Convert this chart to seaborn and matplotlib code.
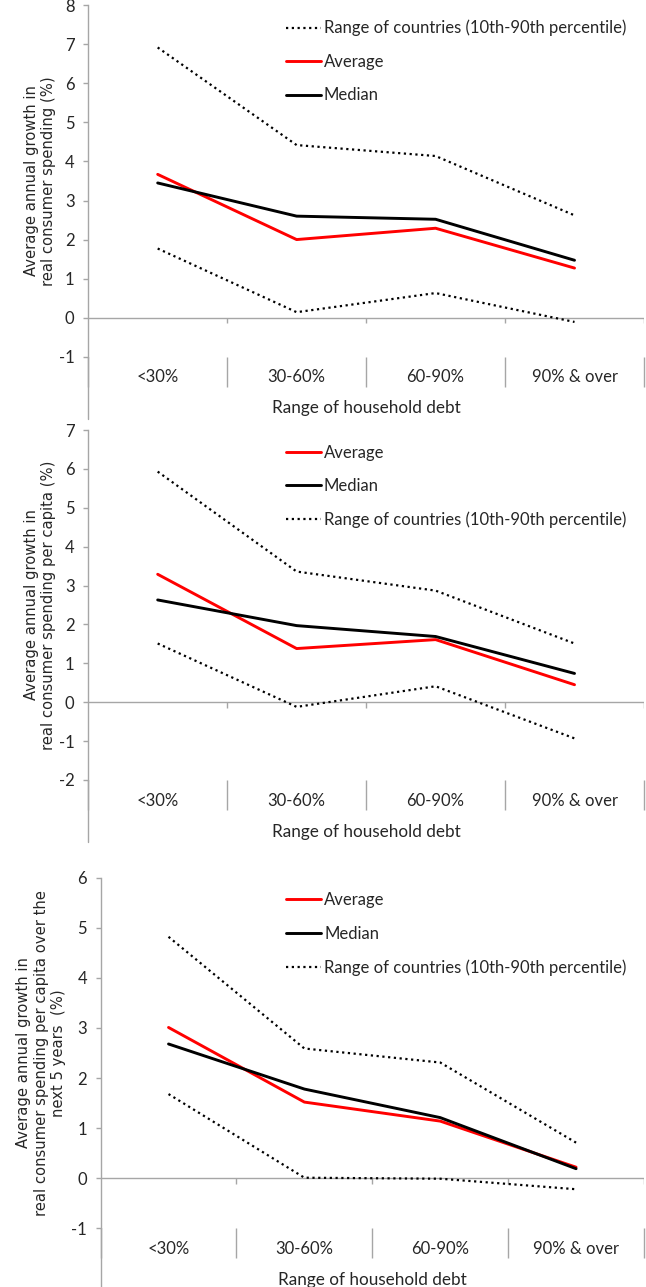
import numpy as np
import pandas as pd
import matplotlib
matplotlib.use("Agg")
import matplotlib.pyplot as plt
import seaborn as sns

# Categories (range of household debt)
categories = ["<30%", "30-60%", "60-90%", "90% & over"]

# Panel 1: real consumer spending
p1_average = [3.67, 2.00, 2.29, 1.27]
p1_median = [3.45, 2.60, 2.52, 1.47]
p1_upper = [6.92, 4.42, 4.14, 2.62]
p1_lower = [1.77, 0.14, 0.63, -0.11]

# Panel 2: real consumer spending per capita
p2_average = [3.29, 1.38, 1.61, 0.45]
p2_median = [2.63, 1.97, 1.69, 0.74]
p2_upper = [5.93, 3.36, 2.87, 1.51]
p2_lower = [1.51, -0.12, 0.41, -0.93]

# Panel 3: per capita over the next 5 years
p3_average = [3.01, 1.52, 1.14, 0.22]
p3_median = [2.68, 1.78, 1.21, 0.19]
p3_upper = [4.82, 2.59, 2.31, 0.71]
p3_lower = [1.68, 0.01, -0.01, -0.22]

RANGE = "Range of countries (10th-90th percentile)"
ylabels = [
    "Average annual growth in\nreal consumer spending (%)",
    "Average annual growth in\nreal consumer spending per capita (%)",
    "Average annual growth in\nreal consumer spending per capita over the\nnext 5 years  (%)",
]
xlabel = "Range of household debt"

sns.set_style("white")
plt.rcParams['font.family'] = ['Lato', 'DejaVu Sans']
plt.rcParams['axes.unicode_minus'] = False
GREY = "#a6a6a6"
W, H = 646, 1287

fig = plt.figure(figsize=(W / 100, H / 100), dpi=100)


def draw(rect, ylim, average, median, upper, lower, ylabel, order, leg_x, ylab_x):
    l, r, t, b = rect
    ax = fig.add_axes([l / W, 1 - b / H, (r - l) / W, (b - t) / H])
    hpx = b - t
    px_unit = hpx / (ylim[1] - ylim[0])

    # zero line with small category ticks
    ax.axhline(0, color=GREY, lw=1, zorder=1)
    bounds = [-0.5, 0.5, 1.5, 2.5, 3.5]
    ax.vlines(bounds[1:], -5.3 / px_unit, 0, color=GREY, lw=1, zorder=1)

    dot = dict(color="black", lw=1.6, linestyle=(0, (1, 1.6)), sort=False, ax=ax)
    sns.lineplot(x=categories, y=upper, label=RANGE, **dot)
    sns.lineplot(x=categories, y=lower, **dot)
    sns.lineplot(x=categories, y=average, color="#ff0000", lw=2.1,
                 label="Average", sort=False, ax=ax)
    sns.lineplot(x=categories, y=median, color="black", lw=2.1,
                 label="Median", sort=False, ax=ax)

    ax.set_xlim(-0.5, 3.5)
    ax.set_ylim(*ylim)
    ax.set_yticks(np.arange(ylim[0], ylim[1] + 1))
    for s in ["top", "right", "bottom"]:
        ax.spines[s].set_visible(False)
    ax.spines["left"].set_color(GREY)
    ax.spines["left"].set_linewidth(1)
    # left axis runs down past the category labels
    ax.plot([0, 0], [0, -62 / hpx], transform=ax.transAxes, color=GREY,
            lw=1, clip_on=False)

    ax.set_xticks(range(4))
    ax.set_xticklabels(categories)
    ax.set_xticks(bounds, minor=True)
    ax.tick_params(axis="x", which="major", bottom=True, length=0, pad=9,
                   labelsize=12)
    ax.tick_params(axis="x", which="minor", bottom=True, length=21.6, width=1,
                   color=GREY, direction="out")
    ax.tick_params(axis="y", length=3.8, width=1, color=GREY, pad=6,
                   labelsize=12, left=True)

    ax.set_ylabel(ylabel, fontfamily="DejaVu Sans", fontsize=10.6)
    ax.yaxis.set_label_coords(ylab_x, 0.5)
    ax.yaxis.label.set_va("center")
    ax.set_xlabel(xlabel, fontsize=12.3)
    ax.xaxis.set_label_coords(0.5, -51.5 / hpx)
    ax.xaxis.label.set_va("center")

    handles, labels = ax.get_legend_handles_labels()
    hmap = dict(zip(labels, handles))
    top_y = 1 - 14.5 / hpx
    ax.legend([hmap[k] for k in order], order, loc="upper left",
              bbox_to_anchor=(leg_x, top_y), frameon=False, borderpad=0,
              borderaxespad=0, handlelength=2.1, handletextpad=0.2,
              labelspacing=1.05, fontsize=12)
    return ax


draw((88.2, 644, 5.3, 356.7), (-1, 8), p1_average, p1_median, p1_upper,
     p1_lower, ylabels[0], [RANGE, "Average", "Median"], 0.355, -0.0867)
draw((88.2, 644, 430, 780), (-2, 7), p2_average, p2_median, p2_upper,
     p2_lower, ylabels[1], ["Average", "Median", RANGE], 0.355, -0.0867)
draw((100.6, 644, 877.7, 1228.3), (-1, 6), p3_average, p3_median, p3_upper,
     p3_lower, ylabels[2], ["Average", "Median", RANGE], 0.341, -0.109)

fig.savefig("out.png", dpi=100)
